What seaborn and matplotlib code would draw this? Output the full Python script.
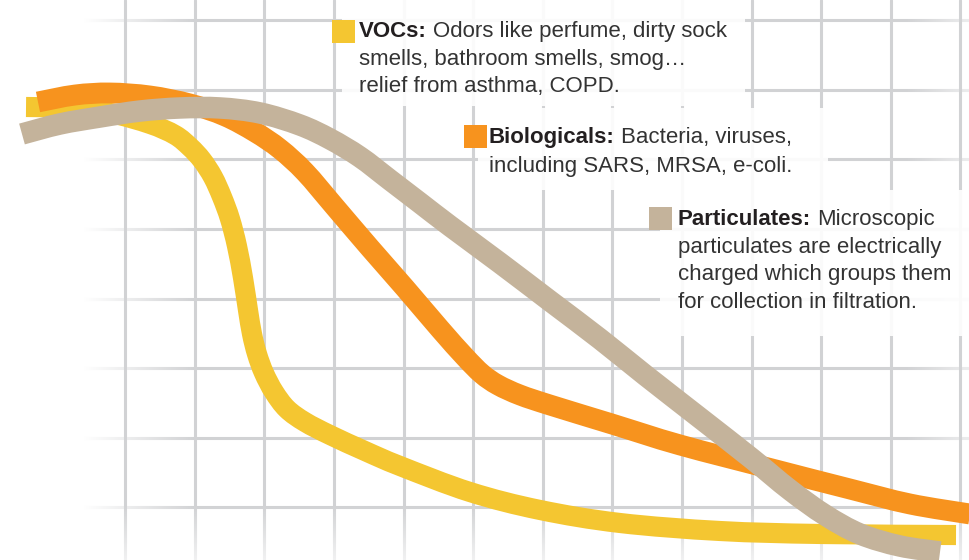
import numpy as np
import matplotlib
matplotlib.use("Agg")
import matplotlib.pyplot as plt
import seaborn as sns
from matplotlib.patches import Rectangle, PathPatch
from matplotlib.path import Path

sns.set_theme(style="white")
plt.rcParams["font.family"] = ["Liberation Sans", "DejaVu Sans"]

# ---------------- data (grid units) ----------------
voc_x = [0.575, 1.207, 1.782, 2.356, 2.716, 2.931, 3.103, 3.261, 3.391, 3.506, 3.606, 3.693,
         3.764, 3.822, 3.894, 3.994, 4.138, 4.325, 4.583, 4.943, 5.445, 5.948, 6.954,
         7.960, 9.109, 10.546, 11.983, 13.937]
voc_y = [6.753, 6.739, 6.667, 6.509, 6.351, 6.178, 5.991, 5.747, 5.460, 5.144, 4.756, 4.296,
         3.836, 3.491, 3.204, 2.931, 2.658, 2.414, 2.227, 2.040, 1.810, 1.595, 1.221,
         0.963, 0.776, 0.661, 0.618, 0.603]

bio_x = [0.747, 1.279, 1.782, 2.356, 2.931, 3.434, 3.865, 4.224, 4.583, 5.014, 5.517, 6.020,
         6.523, 6.882, 7.126, 7.356, 7.672, 8.103, 8.994, 9.971, 11.293, 12.414, 13.276,
         14.138]
bio_y = [6.825, 6.925, 6.954, 6.911, 6.796, 6.624, 6.394, 6.149, 5.819, 5.316, 4.727, 4.152,
         3.563, 3.161, 2.917, 2.759, 2.615, 2.471, 2.198, 1.897, 1.552, 1.264, 1.049,
         0.905]

part_x = [0.517, 1.063, 1.638, 2.213, 2.787, 3.362, 3.937, 4.511, 4.943, 5.374, 5.805, 6.236,
          6.667, 7.385, 8.103, 8.822, 9.468, 10.259, 10.991, 11.552, 12.055, 12.557,
          13.132, 13.707]
part_y = [6.365, 6.509, 6.609, 6.695, 6.739, 6.739, 6.667, 6.494, 6.293, 6.034, 5.704, 5.374,
          5.043, 4.511, 3.966, 3.420, 2.902, 2.284, 1.710, 1.250, 0.891, 0.618, 0.445,
          0.359]

grid_cols = list(range(2, 15))
grid_rows = list(range(1, 9))

labels = ["VOCs:", "Biologicals:", "Particulates:"]
descriptions = [
    ["Odors like perfume, dirty sock", "smells, bathroom smells, smog\u2026", "relief from asthma, COPD."],
    ["Bacteria, viruses,", "including SARS, MRSA, e-coli."],
    ["Microscopic", "particulates are electrically", "charged which groups them",
     "for collection in filtration."],
]
colors = ["#F4C631", "#F7931E", "#C4B39B"]
grid_color = "#D1D2D4"

# ---------------- figure ----------------
W, H = 970, 560
S = 69.6
fig = plt.figure(figsize=(9.7, 5.6), dpi=100)
ax = fig.add_axes([0, 0, 1, 1])
X0, X1 = 14 / S, (W + 14) / S
Y0, Y1 = (577 - H) / S, 577 / S


def px(x, y):
    return (x + 14) / S, (577 - y) / S


def white_fade(x0, x1, y0, y1, a_start, a_end, horizontal=True, z=1.5):
    g = np.linspace(a_start, a_end, 256)
    if horizontal:
        arr = np.ones((1, 256, 4))
        arr[0, :, 3] = g
    else:
        arr = np.ones((256, 1, 4))
        arr[:, 0, 3] = g
    (ex0, ey1), (ex1, ey0) = px(x0, y0), px(x1, y1)
    ax.imshow(arr, extent=(ex0, ex1, ey0, ey1), origin="upper", interpolation="bilinear",
              aspect="auto", zorder=z)


# horizontal grid lines and their left / right fades
for r in grid_rows:
    ax.axhline(r, color=grid_color, lw=2.2, zorder=1)
white_fade(0, 84, 0, H, 1, 1)
white_fade(84, 196, 0, H, 1, 0)
white_fade(905, W, 0, H, 0, 0.6)
# vertical grid lines, fading towards the bottom
for c in grid_cols:
    ax.axvline(c, color=grid_color, lw=2.2, zorder=1.6)
white_fade(0, W, 505, H, 0, 0.7, horizontal=False, z=1.7)

# translucent boxes behind the texts
boxes = [(342, 0, 745, 106), (478, 108, 828, 190), (660, 190, 970, 336)]
for (bx0, by0, bx1, by1) in boxes:
    x0, y0 = px(bx0, by1)
    ax.add_patch(Rectangle((x0, y0), (bx1 - bx0) / S, (by1 - by0) / S,
                           facecolor="white", edgecolor="none", alpha=0.9, zorder=2))


def smooth_path(pts):
    n = len(pts)
    verts = [pts[0]]
    codes = [Path.MOVETO]
    for i in range(n - 1):
        p0 = pts[i - 1] if i > 0 else pts[i]
        p1, p2 = pts[i], pts[i + 1]
        p3 = pts[i + 2] if i + 2 < n else pts[i + 1]
        verts += [p1 + (p2 - p0) / 6, p2 - (p3 - p1) / 6, p2]
        codes += [Path.CURVE4] * 3
    return Path(verts, codes)


# curves: seaborn draws the series, then each is rendered as a smooth curve
for xv, yv, col, lw, z in [(voc_x, voc_y, colors[0], 14.5, 3),
                           (bio_x, bio_y, colors[1], 15, 4),
                           (part_x, part_y, colors[2], 15.5, 5)]:
    sns.lineplot(x=xv, y=yv, ax=ax, color=col, linewidth=lw, sort=False, estimator=None)
    line = ax.lines[-1]
    pts = np.asarray(line.get_xydata(), dtype=float)
    line.remove()
    ax.add_patch(PathPatch(smooth_path(pts), facecolor="none", edgecolor=col, lw=lw,
                           capstyle="butt", joinstyle="round", zorder=z))

ax.set_xlim(X0, X1)
ax.set_ylim(Y0, Y1)
ax.axis("off")

# legend-like annotations
squares = [(332, 20), (464, 125), (649, 207)]
text_pos = [(359, 37), (489, 143), (678, 225)]
line_h = [27.5, 28.5, 27.7]
fs = 16
fig.canvas.draw()
renderer = fig.canvas.get_renderer()
for i in range(3):
    sx, sy = squares[i]
    qx, qy = px(sx, sy + 23)
    ax.add_patch(Rectangle((qx, qy), 23 / S, 23 / S, facecolor=colors[i],
                           edgecolor="none", zorder=6))
    tx, ty = text_pos[i]
    t1 = ax.text(*px(tx, ty), labels[i], fontsize=fs, fontweight="bold",
                 color="#231F20", va="baseline", ha="left", zorder=7)
    bb = t1.get_window_extent(renderer=renderer)
    x_after = bb.x1 + 6
    ax.text(*px(x_after, ty), descriptions[i][0], fontsize=fs, color="#333333",
            va="baseline", ha="left", zorder=7)
    for k, line in enumerate(descriptions[i][1:], start=1):
        ax.text(*px(tx, ty + k * line_h[i]), line, fontsize=fs, color="#333333",
                va="baseline", ha="left", zorder=7)

fig.savefig("out.png", dpi=100)
